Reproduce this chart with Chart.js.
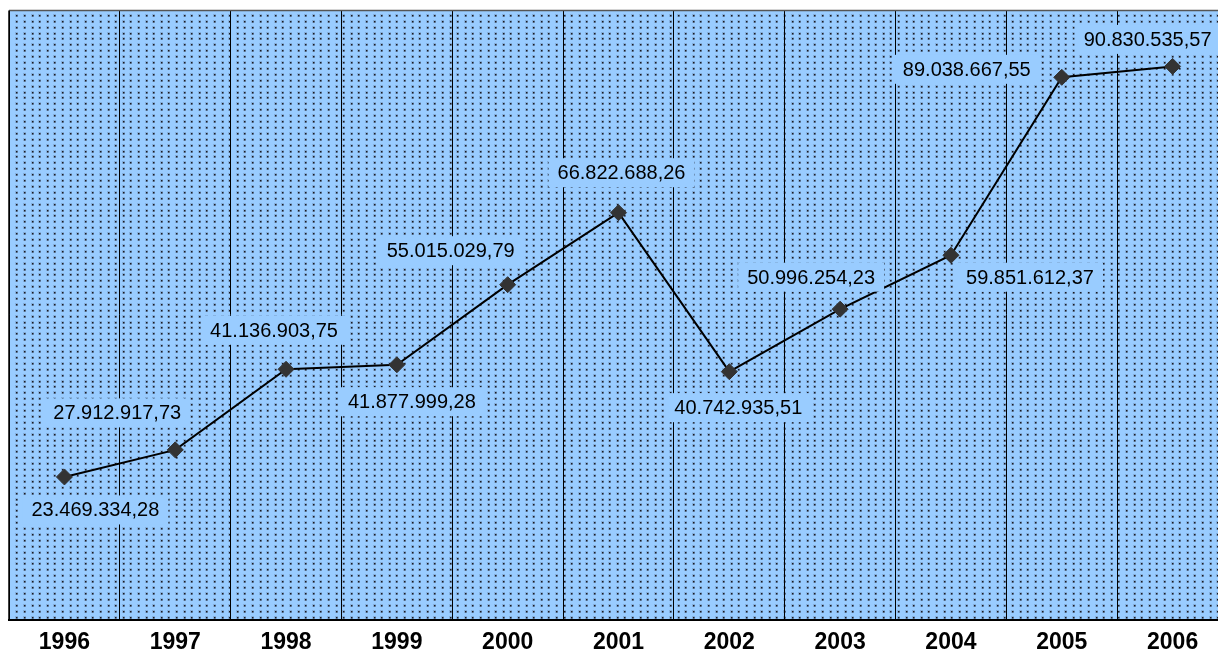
<!DOCTYPE html>
<html>
<head>
<meta charset="utf-8">
<script src="https://cdn.jsdelivr.net/npm/chart.js@4.4.1/dist/chart.umd.min.js"></script>
<style>
  html, body { margin: 0; padding: 0; background: #ffffff; overflow: hidden; }
  canvas { display: block; }
</style>
</head>
<body>
<!-- the plot runs on past the right edge of the window -->
<canvas id="chart" width="1237" height="654" style="width:1237px;height:654px"></canvas>
<script>
// Yearly totals, 1996–2006
const years = ['1996', '1997', '1998', '1999', '2000', '2001', '2002', '2003', '2004', '2005', '2006'];
const totals = [
  23469334.28, 27912917.73, 41136903.75, 41877999.28, 55015029.79, 66822688.26,
  40742935.51, 50996254.23, 59851612.37, 89038667.55, 90830535.57
];
const yMin = 0;
const yMax = 100000000;

// Where each value label sits relative to its point (text centre, px)
const labelOffsets = [
  [31, 33], [-58, -37], [-12, -39], [15, 37], [-57, -34], [3, -40],
  [9, 36], [-29, -32], [79, 22], [-95, -8], [-25, -27]
];

const PLOT_BLUE = '#99CCFF';
const FONT = '"Liberation Sans", Arial, sans-serif';

// 1.234.567,89 style number formatting
function formatValue(v) {
  const fixed = v.toFixed(2);
  const [intPart, dec] = fixed.split('.');
  const grouped = intPart.replace(/\B(?=(\d{3})+(?!\d))/g, '.');
  return grouped + ',' + dec;
}

// Blue dotted plot background + frame lines
const plotBackground = {
  id: 'plotBackground',
  beforeDraw(chart) {
    const { ctx, chartArea: a } = chart;
    ctx.save();
    ctx.fillStyle = PLOT_BLUE;
    ctx.fillRect(a.left, a.top, a.right - a.left, a.bottom - a.top);
    const sx = 7.6, sy = 5.9;
    for (let y = a.top + 4.3; y < a.bottom - 1; y += sy) {
      for (let x = a.left + 7.4; x < a.right; x += sx) {
        const px = Math.round(x), py = Math.round(y);
        ctx.fillStyle = 'rgba(60,70,90,0.22)';
        ctx.fillRect(px - 1, py - 1, 3, 3);
        ctx.fillStyle = '#1a1a22';
        ctx.fillRect(px, py, 1.5, 1.5);
      }
    }
    ctx.restore();
  },
  afterDatasetsDraw(chart) {
    const { ctx, chartArea: a } = chart;
    ctx.save();
    ctx.strokeStyle = '#555555';
    ctx.lineWidth = 1.5;
    ctx.beginPath();
    ctx.moveTo(a.left, a.top);
    ctx.lineTo(a.right, a.top);
    ctx.stroke();
    ctx.strokeStyle = '#000000';
    ctx.lineWidth = 1.5;
    ctx.beginPath();
    ctx.moveTo(a.left, a.top);
    ctx.lineTo(a.left, a.bottom);
    ctx.stroke();
    ctx.restore();
  }
};

// Value labels in solid blue boxes
const valueLabels = {
  id: 'valueLabels',
  afterDatasetsDraw(chart) {
    const { ctx } = chart;
    const meta = chart.getDatasetMeta(0);
    ctx.save();
    ctx.font = '20px ' + FONT;
    ctx.textAlign = 'center';
    ctx.textBaseline = 'middle';
    meta.data.forEach((pt, i) => {
      const text = formatValue(totals[i]);
      const [dx, dy] = labelOffsets[i];
      const cx = pt.x + dx, cy = pt.y + dy;
      const w = ctx.measureText(text).width + 18;
      const h = 29;
      ctx.fillStyle = PLOT_BLUE;
      ctx.fillRect(cx - w / 2, cy - h / 2, w, h);
      ctx.fillStyle = '#000000';
      ctx.fillText(text, cx, cy + 1);
    });
    ctx.restore();
  }
};

new Chart(document.getElementById('chart'), {
  type: 'line',
  data: {
    labels: years,
    datasets: [{
      data: totals,
      borderColor: '#000000',
      borderWidth: 2,
      pointStyle: 'rectRot',
      pointRadius: 8,
      pointHoverRadius: 8,
      pointBackgroundColor: '#333333',
      pointBorderColor: '#333333',
      pointBorderWidth: 1,
      tension: 0,
      fill: false
    }]
  },
  options: {
    responsive: false,
    maintainAspectRatio: false,
    devicePixelRatio: 1,
    animation: false,
    events: [],
    layout: { padding: { left: 9, right: 0, top: 10.5, bottom: 0 } },
    plugins: {
      legend: { display: false },
      title: { display: false },
      tooltip: { enabled: false }
    },
    scales: {
      x: {
        type: 'category',
        offset: true,
        grid: {
          offset: true,
          color: '#000000',
          lineWidth: 1,
          drawTicks: false
        },
        border: { display: true, color: '#000000', width: 2 },
        ticks: {
          color: '#000000',
          padding: 9,
          maxRotation: 0,
          autoSkip: false,
          font: { family: FONT, size: 23, weight: 'bold' }
        },
        afterFit(scale) {
          scale.height = 34;
        }
      },
      y: {
        display: false,
        min: yMin,
        max: yMax
      }
    }
  },
  plugins: [plotBackground, valueLabels]
});
</script>
</body>
</html>
